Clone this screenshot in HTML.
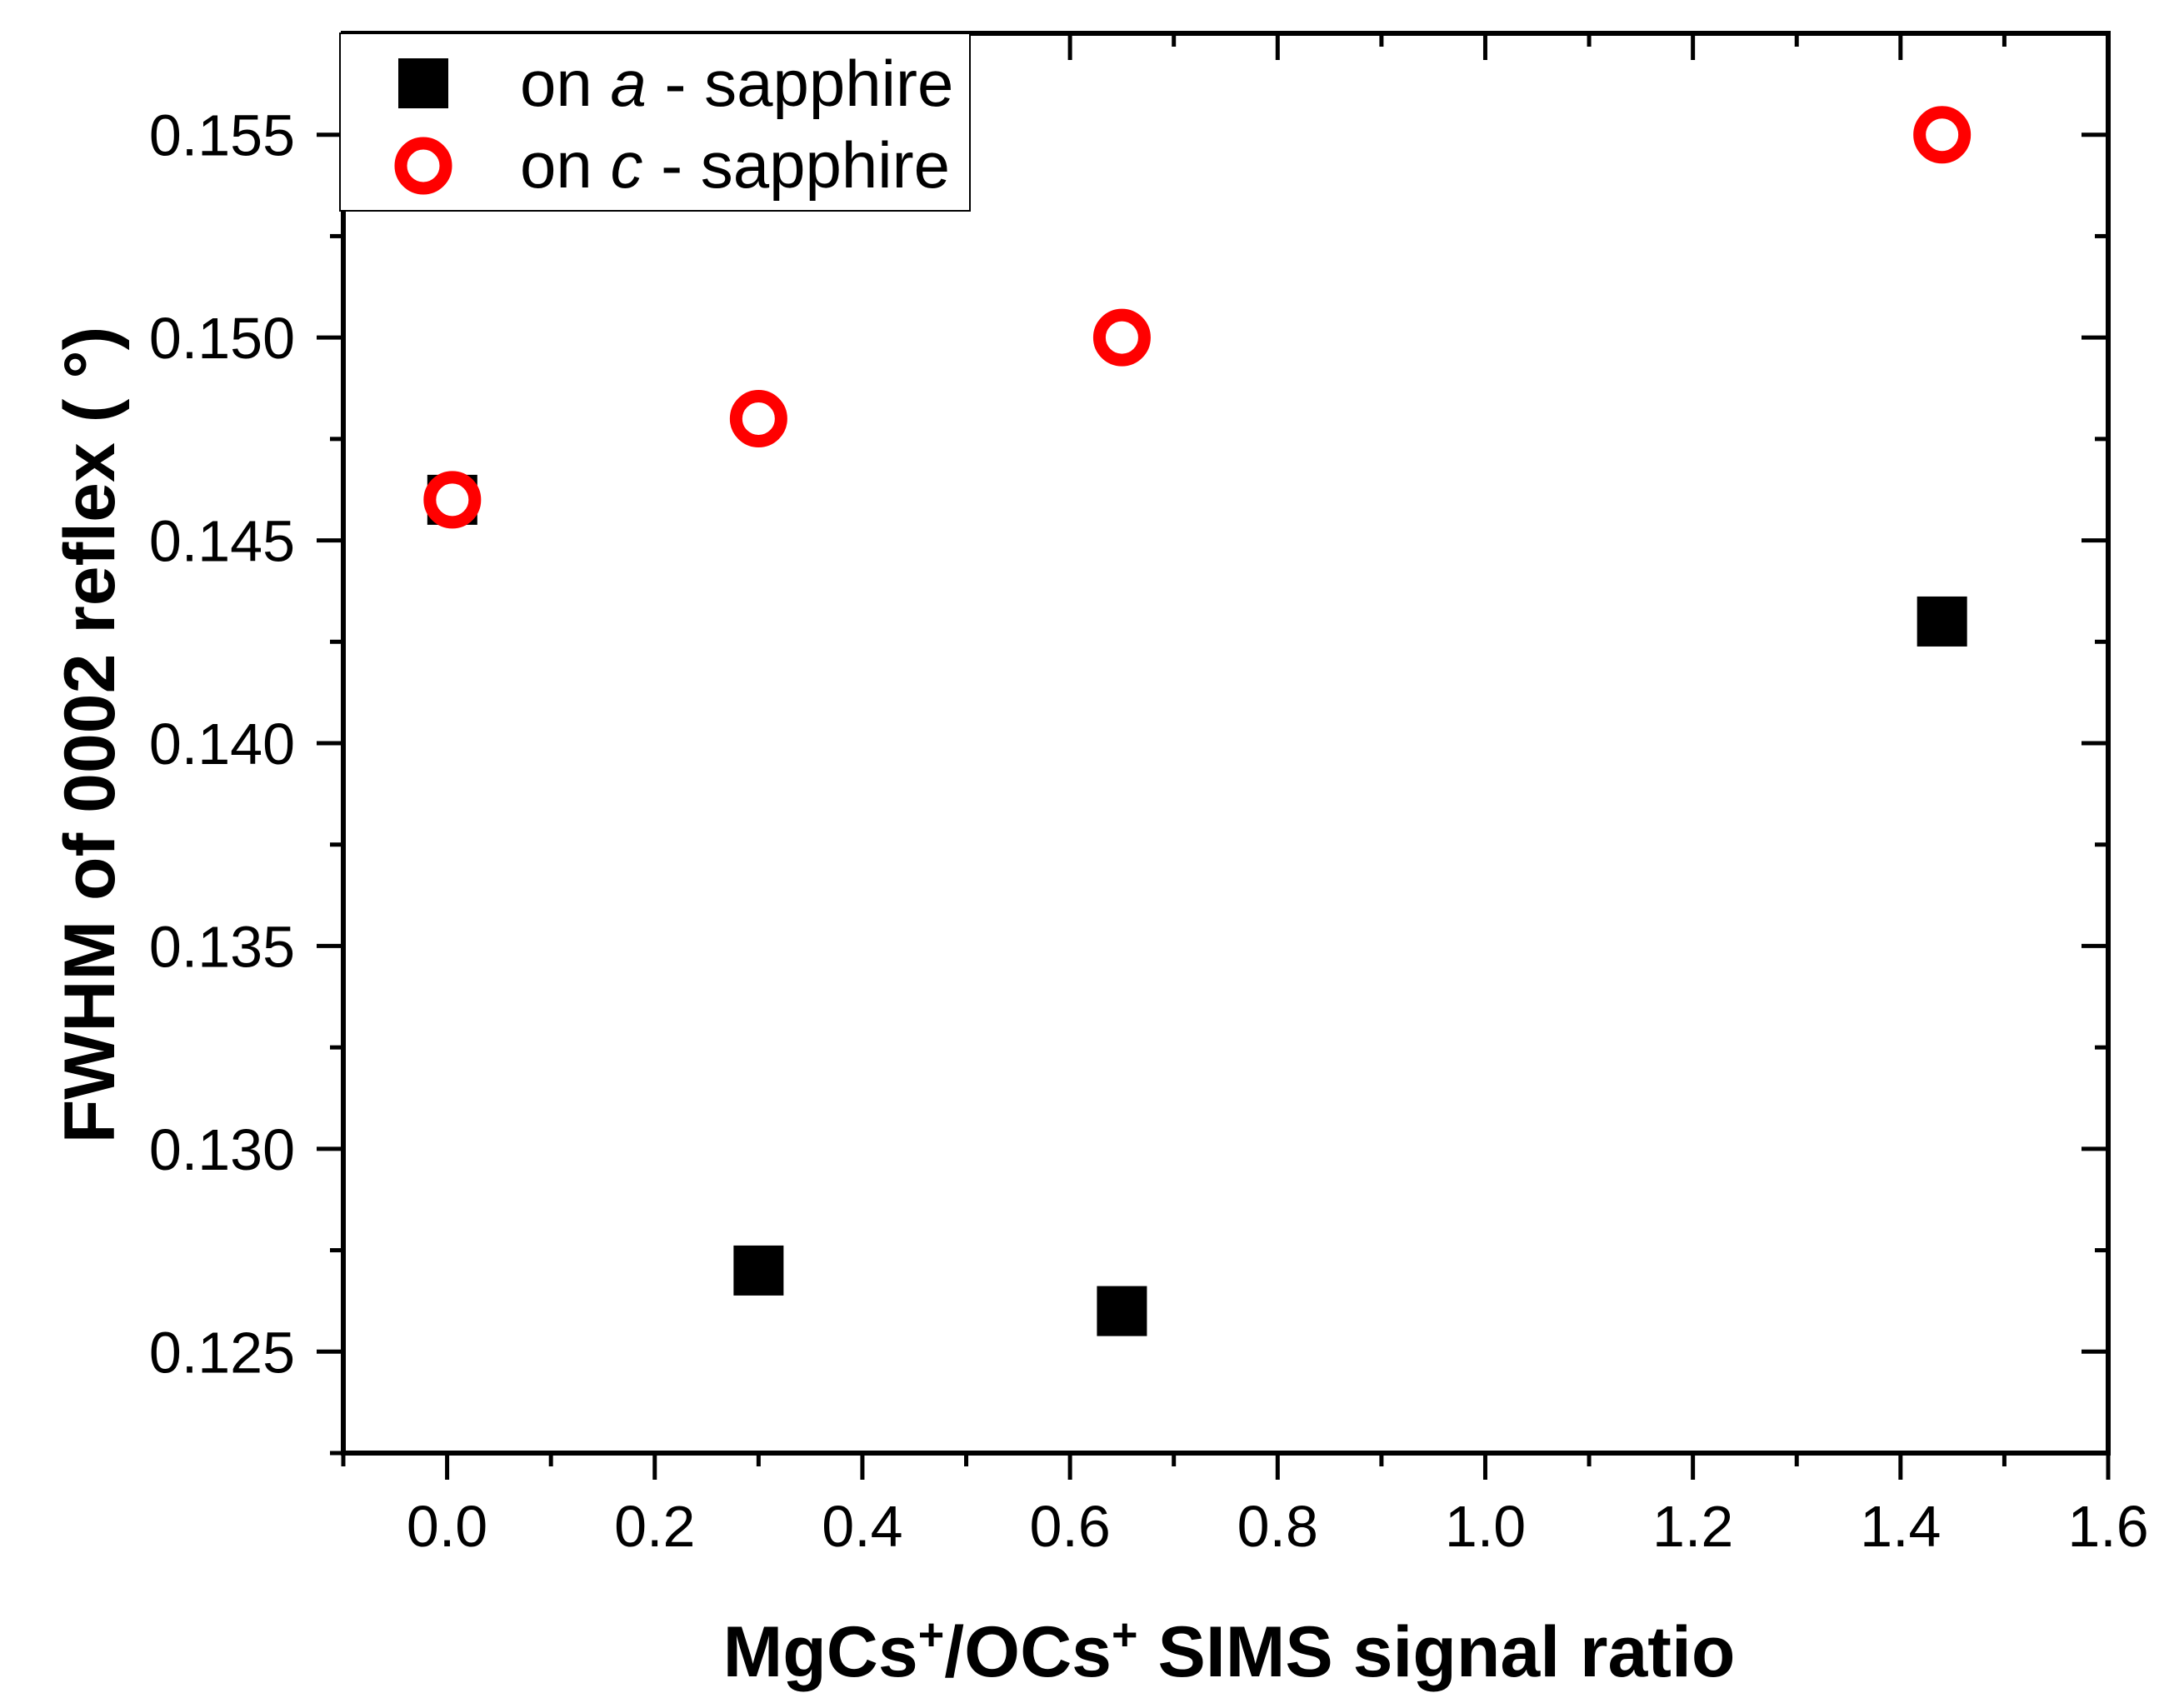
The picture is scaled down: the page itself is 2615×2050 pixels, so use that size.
<!DOCTYPE html>
<html><head><meta charset="utf-8"><style>
html,body{margin:0;padding:0;background:#fff;}
svg{display:block;font-family:"Liberation Sans",Arial,sans-serif;}
</style></head><body>
<svg id="chart" width="2615" height="2050" viewBox="0 0 2615 2050" xmlns="http://www.w3.org/2000/svg">
<g id="axes"></g>
<g id="marks"></g>
<text x="1475" y="2012" text-anchor="middle" font-size="86" font-weight="bold">MgCs<tspan dy="-32" font-size="54">+</tspan><tspan dy="32">/OCs</tspan><tspan dy="-32" font-size="54">+</tspan><tspan dy="32"> SIMS signal ratio</tspan></text>
<text transform="translate(137,882) rotate(-90)" text-anchor="middle" font-size="86" font-weight="bold">FWHM of 0002 reflex ( °)</text>
<g>
<rect x="408" y="40" width="756" height="213" fill="#fff" stroke="#000" stroke-width="2"/>
<rect x="478" y="70" width="60" height="60" fill="#000"/>
<text x="624" y="127" font-size="78">on <tspan font-style="italic">a</tspan> - sapphire</text>
<circle cx="508" cy="199" r="27" fill="#fff" stroke="#f00" stroke-width="15"/>
<text x="624" y="225" font-size="78">on <tspan font-style="italic">c</tspan> - sapphire</text>
</g>
</svg>
<script>
const xTicks = [0.0, 0.2, 0.4, 0.6, 0.8, 1.0, 1.2, 1.4, 1.6];
const xTickLabels = ["0.0","0.2","0.4","0.6","0.8","1.0","1.2","1.4","1.6"];
const yTicks = [0.125, 0.130, 0.135, 0.140, 0.145, 0.150, 0.155];
const yTickLabels = ["0.125","0.130","0.135","0.140","0.145","0.150","0.155"];
const ratioA = [0.005, 0.30, 0.65, 1.44];
const fwhmA = [0.146, 0.127, 0.126, 0.143];
const ratioC = [0.005, 0.30, 0.65, 1.44];
const fwhmC = [0.146, 0.148, 0.150, 0.155];

const L=412, R=2530, T=40, B=1744;
const xMin=-0.1, xMax=1.6, yMin=0.1225, yMax=0.1575;
const sx = v => L + (v-xMin)/(xMax-xMin)*(R-L);
const sy = v => B - (v-yMin)/(yMax-yMin)*(B-T);
const NS="http://www.w3.org/2000/svg";
function mk(tag, attrs, parent){const e=document.createElementNS(NS,tag);for(const k in attrs)e.setAttribute(k,attrs[k]);parent.appendChild(e);return e;}
const axes=document.getElementById('axes'), marks=document.getElementById('marks');

const frame=mk('rect',{x:L,y:T,width:R-L,height:B-T,fill:'none',stroke:'#000','stroke-width':6},axes);



for(let i=0;i<xTicks.length;i++){
  const x=sx(xTicks[i]);
  const t=mk('line',{x1:x,y1:B,x2:x,y2:B+32,stroke:'#000','stroke-width':5},axes);
  
  
  const tt=mk('line',{x1:x,y1:T,x2:x,y2:T+32,stroke:'#000','stroke-width':5},axes);
  
  
  const lb=mk('text',{x:x,y:1856,'text-anchor':'middle','font-size':70},axes);
  lb.textContent=xTickLabels[i];
  
  
}
for(let v=-0.1; v<1.65; v+=0.2){
  const x=sx(v);
  const t=mk('line',{x1:x,y1:B,x2:x,y2:B+16,stroke:'#000','stroke-width':5},axes);
  
  
  const tt=mk('line',{x1:x,y1:T,x2:x,y2:T+16,stroke:'#000','stroke-width':5},axes);
  
  
}
for(let i=0;i<yTicks.length;i++){
  const y=sy(yTicks[i]);
  const t=mk('line',{x1:L-32,y1:y,x2:L,y2:y,stroke:'#000','stroke-width':5},axes);
  
  
  const tr=mk('line',{x1:R-32,y1:y,x2:R,y2:y,stroke:'#000','stroke-width':5},axes);
  
  
  const lb=mk('text',{x:354,y:y+25,'text-anchor':'end','font-size':70},axes);
  lb.textContent=yTickLabels[i];
  
  
}
for(let k=0;k<7;k++){
  const y=sy(0.1225+0.005*k);
  const t=mk('line',{x1:L-16,y1:y,x2:L,y2:y,stroke:'#000','stroke-width':5},axes);
  
  
  const tr=mk('line',{x1:R-16,y1:y,x2:R,y2:y,stroke:'#000','stroke-width':5},axes);
  
  
}
for(let i=0;i<ratioA.length;i++){
  const s=mk('rect',{x:sx(ratioA[i])-30,y:sy(fwhmA[i])-30,width:60,height:60,fill:'#000'},marks);
  
  
}
for(let i=0;i<ratioC.length;i++){
  const c=mk('circle',{cx:sx(ratioC[i]),cy:sy(fwhmC[i]),r:27,fill:'#fff',stroke:'#f00','stroke-width':15},marks);
  
  
}
</script>
</body></html>
